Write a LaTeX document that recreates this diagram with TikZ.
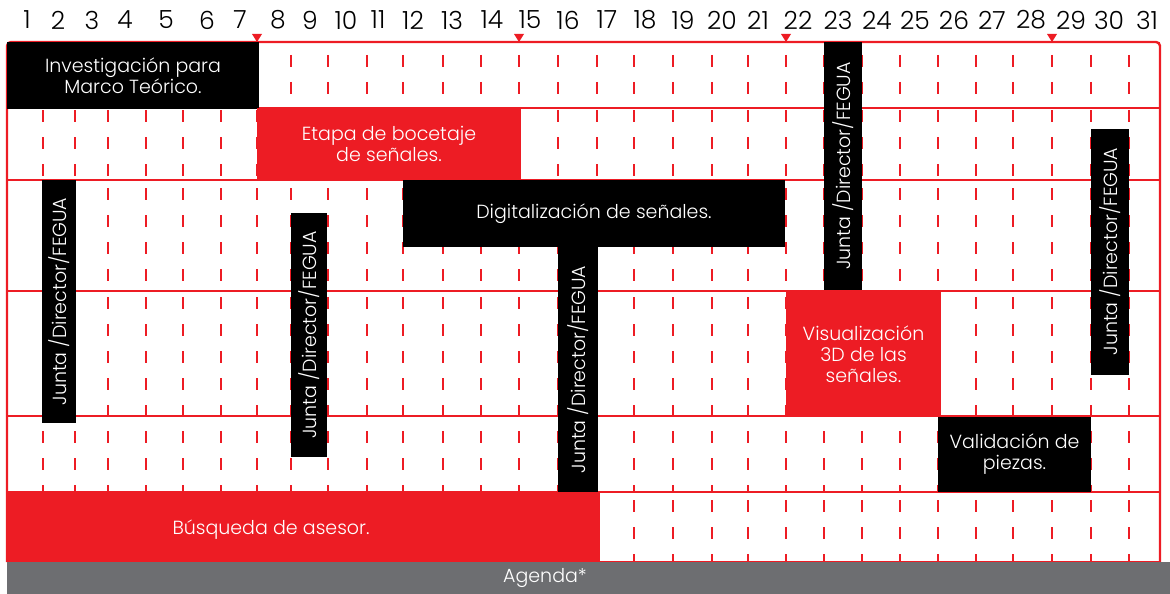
\documentclass[tikz,border=0pt]{standalone}
\usepackage{fontspec}
\setmainfont{Poppins}[UprightFont=* Light]
\usetikzlibrary{positioning}
\definecolor{fegred}{RGB}{237,28,36}
\definecolor{feggray}{RGB}{109,110,113}

\begin{document}
\begin{tikzpicture}[x=1pt,y=-1pt,
	gridline/.style={draw=fegred,line width=2.4pt},
	dayline/.style={draw=fegred,line width=2.8pt},
	task/.style={inner sep=0pt,outer sep=0pt,text=white,align=center,font=\fontsize{19}{21}\selectfont},
	redtask/.style={task,fill=fegred},
	blacktask/.style={task,fill=black},
	junta/.style={blacktask,rotate=90}
	]

	\useasboundingbox (0,0) rectangle (1170,594);

	\foreach \d/\x in {1/27,2/58,3/92,4/125,5/166,6/207,7/240,8/278,9/310,10/346,11/378,12/413,13/452,14/492,15/530,16/568,17/607,18/645,19/683,20/722,21/758,22/798,23/838,24/877,25/915,26/954,27/992,28/1031,29/1071,30/1109,31/1147}
		\node[font=\fontsize{25}{25}\selectfont,inner sep=0pt] (day\d) at (\x,20) {\d};

	\foreach \ya/\yb/\ph in {42/108/14,108/180/25,180/291/19,291/416/21,416/492/12,492/562/19}
		\foreach \x in {43,75,108,146,183,221,257,291,328,367,403,443,481,519,558,597,634,673,712,748,786,824,862,900,938,976,1013,1052,1091,1129}
			\draw[dayline,dash pattern=on 12pt off 15pt,dash phase=\ph] (\x,\ya) -- (\x,\yb);

	\draw[gridline,rounded corners=4pt] (7,562) -- (7,42) -- (1160,42) -- (1160,562);
	\foreach \y in {108,180,291,416,492,562}
		\draw[gridline] (7,\y) -- (1160,\y);
	\foreach \x in {257,519,786,1052}
		\fill[fegred] (\x-5,34) -- (\x+5,34) -- (\x,42) -- cycle;

	\node[blacktask,minimum width=252pt,minimum height=67pt] (marco) at (133,75.5) {Investigación para\\Marco Teórico.};
	\node[redtask,minimum width=264pt,minimum height=72pt] (boceto) at (389,144) {Etapa de bocetaje\\de señales.};
	\node[blacktask,minimum width=382pt,minimum height=67pt] (digital) at (594,213.5) {Digitalización de señales.};
	\node[redtask,minimum width=155pt,minimum height=126pt] (visual) at (863.5,354) {Visualización\\3D de las\\señales.};
	\node[blacktask,minimum width=153pt,minimum height=75pt] (valida) at (1014.5,454.5) {Validación de\\piezas.};
	\node[redtask,minimum width=593pt,minimum height=70pt] (asesor) at (303.5,527) {};
	\node[task] (asesortxt) at (271,530) {Búsqueda de asesor.};

	\node[junta,minimum width=243pt,minimum height=34pt] (junta1) at (59,301.5) {Junta /Director/FEGUA};
	\node[junta,minimum width=244pt,minimum height=36pt] (junta2) at (309,335) {Junta /Director/FEGUA};
	\node[junta,minimum width=245pt,minimum height=40pt] (junta3) at (578,369.5) {Junta /Director/FEGUA};
	\node[junta,minimum width=248pt,minimum height=38pt] (junta4) at (843,166) {Junta /Director/FEGUA};
	\node[junta,minimum width=246pt,minimum height=38pt] (junta5) at (1110,251.5) {Junta /Director/FEGUA};

	\node[fill=feggray,inner sep=0pt,minimum width=1163pt,minimum height=32pt] (agenda) at (588.5,578) {};
	\node[task] (agendatxt) at (545,578) {Agenda*};

\end{tikzpicture}
\end{document}
